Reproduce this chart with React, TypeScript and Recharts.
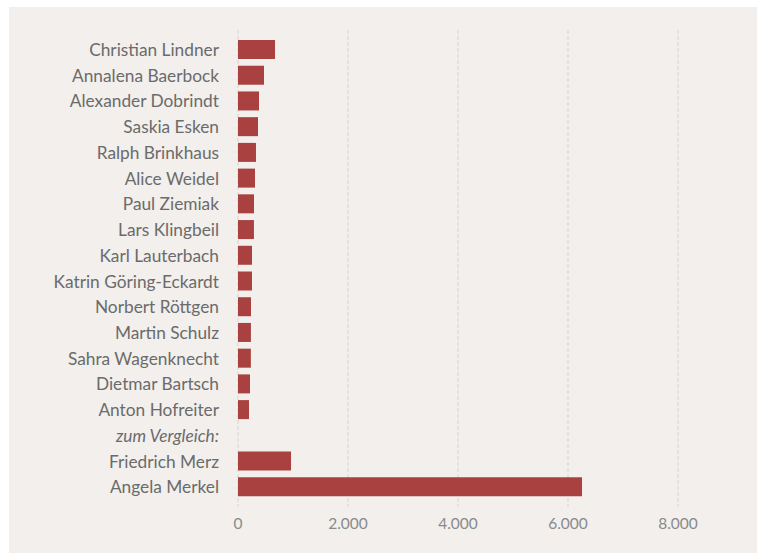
import { Bar, BarChart, CartesianGrid, XAxis, YAxis } from "recharts";

const names = [
  "Christian Lindner",
  "Annalena Baerbock",
  "Alexander Dobrindt",
  "Saskia Esken",
  "Ralph Brinkhaus",
  "Alice Weidel",
  "Paul Ziemiak",
  "Lars Klingbeil",
  "Karl Lauterbach",
  "Katrin Göring-Eckardt",
  "Norbert Röttgen",
  "Martin Schulz",
  "Sahra Wagenknecht",
  "Dietmar Bartsch",
  "Anton Hofreiter",
  "zum Vergleich:",
  "Friedrich Merz",
  "Angela Merkel",
];

const values: (number | null)[] = [
  673, 473, 382, 364, 327, 309, 291, 290, 255, 254, 236, 235, 234, 218, 200,
  null, 964, 6255,
];

const xTicks = [0, 2000, 4000, 6000, 8000];

const data = names.map((name, i) => ({ name, value: values[i] }));

const fmt = (v: number) => v.toLocaleString("de-DE");

function NameTick(props: any) {
  const { x, y, payload } = props;
  const isNote = payload.value === "zum Vergleich:";
  return (
    <text
      x={x}
      y={y}
      dy="0.355em"
      textAnchor="end"
      fill="#6b6b6b"
      fontSize={17.3}
      fontStyle={isNote ? "italic" : "normal"}
      fontFamily="Lato"
    >
      {payload.value}
    </text>
  );
}

export default function App() {
  return (
    <div
      style={{
        position: "absolute",
        left: 9,
        top: 7,
        width: 748,
        height: 546,
        background: "#f2efec",
        fontFamily: "Lato",
      }}
    >
      <BarChart
        width={748}
        height={546}
        data={data}
        layout="vertical"
        margin={{ top: 23, right: 24, left: 0, bottom: 0 }}
        barSize={19}
      >
        <CartesianGrid
          horizontal={false}
          stroke="#d6d3d0"
          strokeDasharray="4 2"
          syncWithTicks
        />
        <XAxis
          type="number"
          domain={[0, 9000]}
          ticks={xTicks}
          tickFormatter={fmt}
          axisLine={false}
          tickLine={false}
          tickMargin={5}
          height={46}
          tick={{ fill: "#8a8a8a", fontSize: 15.5, fontFamily: "Lato" }}
        />
        <YAxis
          type="category"
          dataKey="name"
          width={229}
          axisLine={false}
          tickLine={false}
          tickMargin={13}
          interval={0}
          padding={{ top: 7, bottom: 7 }}
          tick={<NameTick />}
        />
        <Bar dataKey="value" fill="#a94140" isAnimationActive={false} />
      </BarChart>
    </div>
  );
}
